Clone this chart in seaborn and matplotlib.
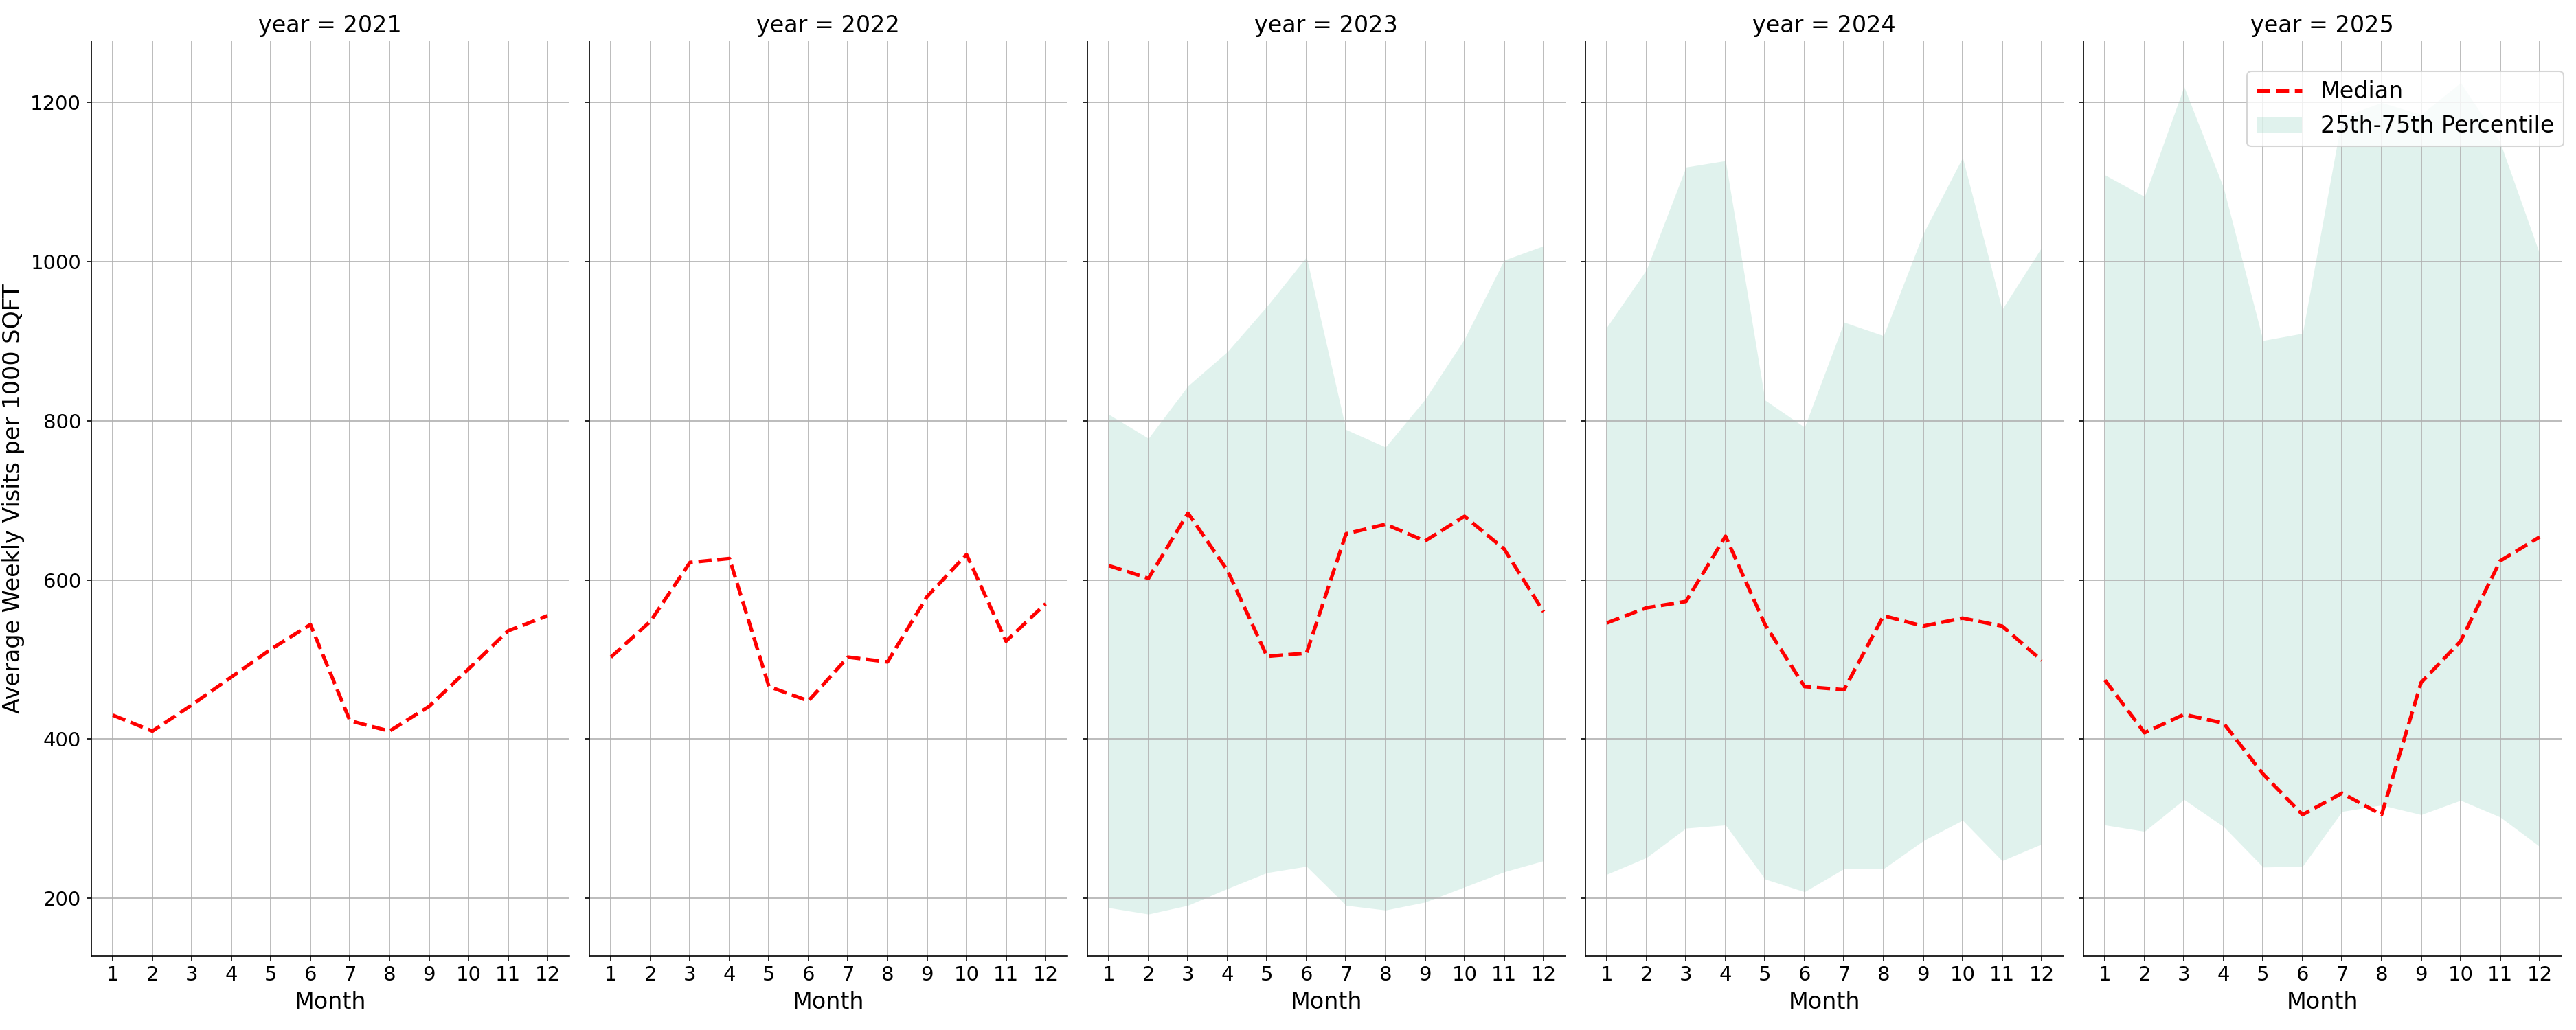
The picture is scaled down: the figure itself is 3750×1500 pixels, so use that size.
import numpy as np
import pandas as pd
import matplotlib
matplotlib.use("Agg")
import matplotlib.pyplot as plt
import seaborn as sns

years = [2021, 2022, 2023, 2024, 2025]
months = list(range(1, 13))

median_2021 = [430, 410, 443, 478, 513, 544, 423, 410, 441, 488, 536, 555]
median_2022 = [503, 548, 622, 627, 466, 448, 503, 497, 579, 632, 523, 570]
median_2023 = [618, 602, 684, 612, 504, 508, 658, 670, 649, 680, 639, 560]
median_2024 = [546, 565, 573, 655, 544, 466, 462, 555, 542, 552, 542, 499]
median_2025 = [474, 408, 431, 420, 356, 305, 332, 305, 471, 523, 624, 654]

p25_2023 = [188, 180, 191, 212, 232, 240, 191, 185, 195, 214, 233, 247]
p75_2023 = [808, 778, 844, 887, 944, 1006, 789, 767, 827, 903, 1002, 1020]
p25_2024 = [230, 251, 288, 292, 224, 208, 237, 237, 272, 298, 247, 268]
p75_2024 = [918, 990, 1119, 1127, 826, 792, 924, 907, 1035, 1131, 940, 1018]
p25_2025 = [292, 284, 324, 290, 239, 240, 309, 317, 305, 323, 302, 265]
p75_2025 = [1109, 1082, 1220, 1093, 901, 910, 1182, 1200, 1185, 1225, 1150, 1010]

nan12 = [np.nan] * 12
medians = [median_2021, median_2022, median_2023, median_2024, median_2025]
p25s = [nan12, nan12, p25_2023, p25_2024, p25_2025]
p75s = [nan12, nan12, p75_2023, p75_2024, p75_2025]

frames = []
for yr, med, lo, hi in zip(years, medians, p25s, p75s):
    frames.append(pd.DataFrame({"year": yr, "month": months,
                                "median": med, "p25": lo, "p75": hi}))
df = pd.concat(frames, ignore_index=True)

plt.rcParams.update({
    "font.family": ["DejaVu Sans"],
    "xtick.labelsize": 14,
    "ytick.labelsize": 14,
    "axes.labelsize": 16,
    "axes.titlesize": 16,
    "legend.fontsize": 16,
})

FILL = "#66c2a5"


def draw(data, **kws):
    ax = plt.gca()
    d = data.dropna(subset=["p25", "p75"])
    if len(d):
        ax.fill_between(d["month"], d["p25"], d["p75"], color=FILL,
                        alpha=0.2, linewidth=0, label="25th-75th Percentile")
    sns.lineplot(data=data, x="month", y="median", ax=ax, color="red",
                 linestyle="--", linewidth=2.5, legend=False)
    ax.grid(True)


g = sns.FacetGrid(df, col="year", height=10, aspect=0.5, sharey=True,
                  despine=True)
g.map_dataframe(draw)
g.set_titles("year = {col_name}")
g.set_axis_labels("Month", "Average Weekly Visits per 1000 SQFT")
for ax in g.axes.flat:
    ax.set_xticks(months)
    ax.set_yticks([200, 400, 600, 800, 1000, 1200])

g.figure.subplots_adjust(left=132.7 / 3750, right=3728.7 / 3750,
                         top=1 - 60 / 1500, bottom=1 - 1391.7 / 1500,
                         wspace=29 / 696)

last = g.axes.flat[-1]
handles = [last.lines[0], last.collections[0]]
labels = ["Median", "25th-75th Percentile"]
g.figure.legend(handles, labels, loc="upper right",
                bbox_to_anchor=(3731.7 / 3750, 1 - 104 / 1500),
                bbox_transform=g.figure.transFigure, borderaxespad=0)

g.figure.savefig("out.png", dpi=150)
